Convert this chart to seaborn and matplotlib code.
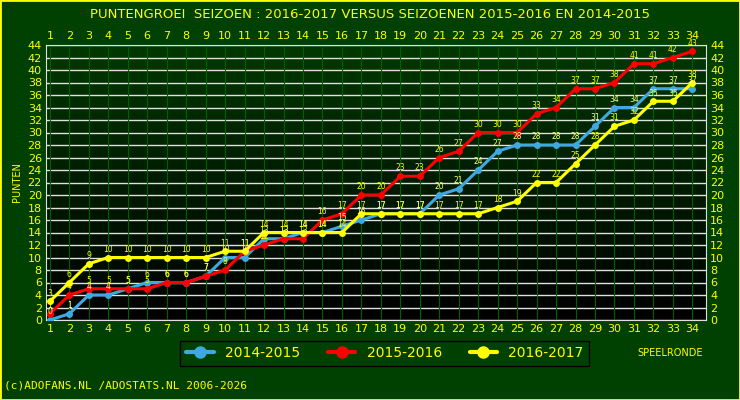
import matplotlib
matplotlib.use("Agg")
import matplotlib.pyplot as plt
import seaborn as sns
import numpy as np
import pandas as pd

rounds = list(range(1, 35))
s1415 = [0,1,4,4,5,6,6,6,7,10,10,13,13,14,14,15,16,17,17,17,20,21,24,27,28,28,28,28,31,34,34,37,37,37]
s1516 = [1,4,5,5,5,5,6,6,7,8,11,12,13,13,16,17,20,20,23,23,26,27,30,30,30,33,34,37,37,38,41,41,42,43]
s1617 = [3,6,9,10,10,10,10,10,10,11,11,14,14,14,14,14,17,17,17,17,17,17,17,18,19,22,22,25,28,31,32,35,35,38]
labels = ["2014-2015", "2015-2016", "2016-2017"]
colors = ["#40a8e0", "#ff0000", "#ffff00"]

df = pd.DataFrame({"ronde": rounds * 3,
                   "punten": s1415 + s1516 + s1617,
                   "seizoen": [l for l in labels for _ in rounds]})

sns.set_style("dark")
plt.rcParams['font.family'] = ['DejaVu Sans']
fig = plt.figure(figsize=(7.4, 4.0), dpi=100, facecolor="#004000")
ax = fig.add_axes([46/740, 80/400, 660/740, 275/400])
ax.set_xlim(0.8, 34.7)
ax.set_ylim(0, 44)
grad = np.linspace(0, 1, 256).reshape(-1, 1)
cmap = matplotlib.colors.LinearSegmentedColormap.from_list("g", ["#000000", "#003800"])
ax.imshow(grad, extent=[0.8, 34.7, 0, 44], aspect="auto", cmap=cmap, origin="lower", zorder=0)
for y in range(0, 45, 2):
    ax.axhline(y, color="#e0e0e0", lw=1, zorder=1)
for x in rounds:
    ax.axvline(x, color="#006000", lw=0.8, zorder=1)

sns.lineplot(data=df, x="ronde", y="punten", hue="seizoen", palette=colors,
             marker="o", markersize=5, lw=2.2, markeredgecolor="none", ax=ax, zorder=3, legend=False)
for vals, c in zip([s1415, s1516, s1617], colors):
    for x, v in zip(rounds, vals):
        ax.text(x, v + 0.6, str(v), color="#ffff00" if c != "#40a8e0" else "#ffff80",
                fontsize=5.5, ha="center", va="bottom", zorder=4)

ty = dict(color="#ffff00", fontsize=8)
ax.set_xticks(rounds)
ax.set_xticklabels([str(r) for r in rounds], **ty)
ax.set_yticks(range(0, 45, 2))
ax.set_yticklabels([str(y) for y in range(0, 45, 2)], **ty)
ax.tick_params(length=0, pad=3, labeltop=True, labelright=True)
ax.set_xlabel(""); ax.set_ylabel("PUNTEN", color="#ffff00", fontsize=7)
for s in ax.spines.values():
    s.set_visible(True); s.set_color("#e0e0e0")
ax.grid(False)

fig.text(0.5, 0.965, "PUNTENGROEI  SEIZOEN : 2016-2017 VERSUS SEIZOENEN 2015-2016 EN 2014-2015",
         color="#ffff00", fontsize=9.5, ha="center", va="center")
fig.text(0.905, 0.117, "SPEELRONDE", color="#ffff00", fontsize=7, ha="center", va="center")
fig.text(0.005, 0.035, "(c)ADOFANS.NL /ADOSTATS.NL 2006-2026", color="#ffff00", fontsize=8,
         family="DejaVu Sans Mono", va="center")
handles = [plt.Line2D([], [], color=c, marker="o", lw=3, markersize=8) for c in colors]
leg = fig.legend(handles, labels, loc="center", bbox_to_anchor=(0.52, 0.117), ncol=3,
                 facecolor="#004000", edgecolor="#000000", framealpha=1, fancybox=False,
                 labelcolor="#ffff00", fontsize=10, handlelength=2)
fig.patches.append(matplotlib.patches.Rectangle((0, 0), 1, 1, transform=fig.transFigure,
                   fill=False, edgecolor="#ffff00", lw=2))
fig.savefig("out.png", dpi=100, facecolor=fig.get_facecolor())
